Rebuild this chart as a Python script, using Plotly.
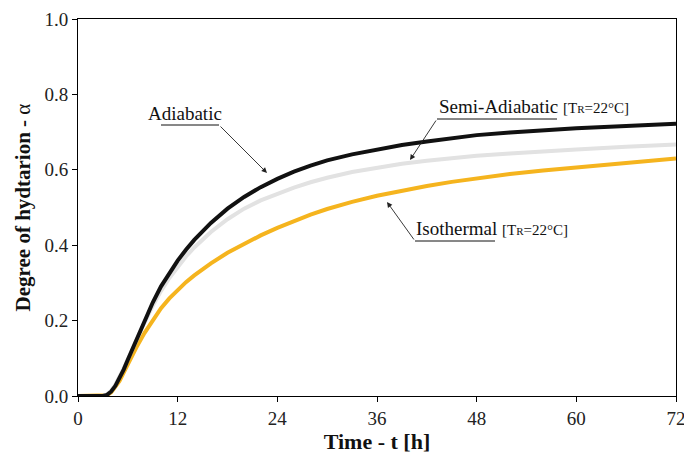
import plotly.graph_objects as go

# ---- data ----
time_h = [0, 1, 2, 3, 3.5, 4, 4.5, 5, 5.5, 6, 7, 8, 9, 10, 11, 12, 13, 14, 16, 18, 20, 22, 24, 26, 28, 30,
          33, 36, 39, 42, 45, 48, 52, 56, 60, 66, 72]
adiabatic = [0, 0, 0, 0, 0.003, 0.012, 0.027, 0.046, 0.070, 0.096, 0.148, 0.200, 0.248, 0.291, 0.327, 0.359,
             0.388, 0.414, 0.459, 0.497, 0.528, 0.554, 0.576, 0.595, 0.611, 0.625, 0.641, 0.654, 0.666, 0.675,
             0.684, 0.692, 0.699, 0.705, 0.710, 0.716, 0.722]
semi_adiabatic = [0, 0, 0, 0, 0.004, 0.014, 0.030, 0.050, 0.073, 0.097, 0.147, 0.195, 0.239, 0.279, 0.313,
                  0.343, 0.370, 0.394, 0.435, 0.469, 0.497, 0.519, 0.537, 0.553, 0.567, 0.579, 0.594, 0.606,
                  0.616, 0.624, 0.631, 0.637, 0.643, 0.649, 0.654, 0.661, 0.667]
isothermal = [0, 0, 0, 0, 0.002, 0.010, 0.023, 0.040, 0.062, 0.085, 0.128, 0.167, 0.202, 0.233, 0.259, 0.282,
              0.302, 0.320, 0.352, 0.380, 0.404, 0.426, 0.446, 0.464, 0.481, 0.496, 0.515, 0.531, 0.545, 0.557,
              0.568, 0.578, 0.589, 0.598, 0.606, 0.618, 0.630]
x_ticks = [0, 12, 24, 36, 48, 60, 72]
y_ticks = [0.0, 0.2, 0.4, 0.6, 0.8, 1.0]

W, H = 684, 457
L, R, T, B = 78, 8, 19, 61
PW, PH = W - L - R, H - T - B


def dx(px):
    return (px - L) / PW * 72


def dy(py):
    return (T + PH - py) / PH * 1.0


FONT = "Liberation Serif, Times New Roman, Times, DejaVu Serif, serif"

fig = go.Figure()
fig.add_trace(go.Scatter(x=time_h, y=isothermal, mode="lines",
                         line=dict(color="#f5b41e", width=4), name="Isothermal"))
fig.add_trace(go.Scatter(x=time_h, y=semi_adiabatic, mode="lines",
                         line=dict(color="#e2e2e2", width=4), name="Semi-Adiabatic"))
fig.add_trace(go.Scatter(x=time_h, y=adiabatic, mode="lines",
                         line=dict(color="#111111", width=4), name="Adiabatic"))

small = "<span style='font-size:15px'>[T<span style='font-size:11px'>R</span>=22°C]</span>"
texts = [
    ("Adiabatic", 146, 113),
    ("Semi-Adiabatic " + small, 437, 106),
    ("Isothermal " + small, 414, 228),
]
for t, px, py in texts:
    fig.add_annotation(x=dx(px), y=dy(py), text=t, showarrow=False, xanchor="left", yanchor="middle",
                       font=dict(family=FONT, size=19, color="#111"))

# underlines
for x0, x1, py in [(161, 219, 125), (437, 557, 119), (415, 495, 241)]:
    fig.add_shape(type="line", x0=dx(x0), x1=dx(x1), y0=dy(py), y1=dy(py), line=dict(color="#111", width=1))

# arrows (tail -> tip)
for tx, ty, hx, hy in [(219, 125, 267, 173), (437, 119, 410, 160), (415, 241, 387, 202)]:
    fig.add_annotation(x=dx(hx), y=dy(hy), ax=dx(tx), ay=dy(ty), axref="x", ayref="y", xref="x", yref="y",
                       text="", showarrow=True, arrowhead=2, arrowsize=1.2, arrowwidth=0.9, arrowcolor="#222")

axis_common = dict(showgrid=False, zeroline=False, showline=True, linecolor="black", linewidth=1, mirror=True,
                   ticks="outside", ticklen=5, tickcolor="black", automargin=False,
                   ticklabeloverflow="allow", tickfont=dict(family=FONT, size=19, color="#222"))
fig.update_xaxes(range=[0, 72], tickvals=x_ticks, title=dict(text="<b>Time - t [h]</b>", standoff=3,
                 font=dict(family=FONT, size=22, color="#111")), **axis_common)
fig.update_yaxes(range=[0, 1], tickvals=y_ticks, tickformat=".1f",
                 title=dict(text="<b>Degree of hydtarion - </b>α", standoff=8,
                            font=dict(family=FONT, size=21, color="#111")), **axis_common)

fig.update_layout(width=W, height=H, margin=dict(l=L, r=R, t=T, b=B), showlegend=False,
                  font=dict(family=FONT), plot_bgcolor="white", paper_bgcolor="white")
fig.write_html("out.html", config={"displayModeBar": False},
               post_script="document.body.style.margin='0';")
